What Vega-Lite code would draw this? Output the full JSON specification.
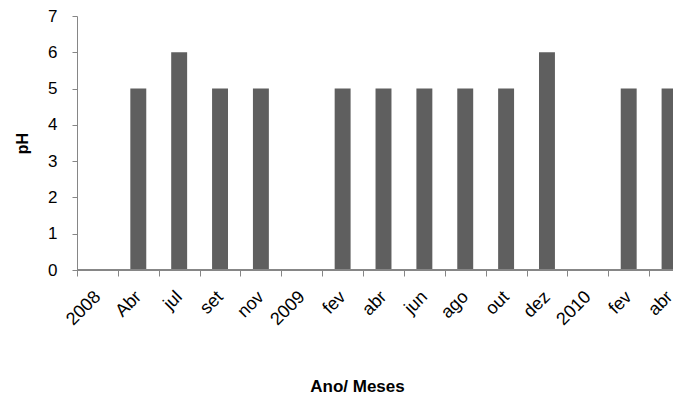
{
  "$schema": "https://vega.github.io/schema/vega-lite/v6.json",
  "width": 596,
  "height": 254,
  "autosize": {"type": "none"},
  "padding": {"left": 77, "top": 16, "right": 12, "bottom": 128},
  "background": "white",
  "config": {
    "view": {"stroke": null},
    "font": "Liberation Sans",
    "axis": {
      "labelColor": "#000000",
      "titleColor": "#000000",
      "domainColor": "#868686",
      "tickColor": "#868686",
      "grid": false
    }
  },
  "data": {
    "values": [
      {"periodo": "2008 Abr", "pH": 5},
      {"periodo": "2008 jul", "pH": 6},
      {"periodo": "2008 set", "pH": 5},
      {"periodo": "2008 nov", "pH": 5},
      {"periodo": "2009 fev", "pH": 5},
      {"periodo": "2009 abr", "pH": 5},
      {"periodo": "2009 jun", "pH": 5},
      {"periodo": "2009 ago", "pH": 5},
      {"periodo": "2009 out", "pH": 5},
      {"periodo": "2009 dez", "pH": 6},
      {"periodo": "2010 fev", "pH": 5},
      {"periodo": "2010 abr", "pH": 5}
    ]
  },
  "layer": [
    {
      "mark": {"type": "bar", "color": "#5f5f5f", "width": {"band": 0.39}, "clip": true},
      "encoding": {
        "x": {
          "field": "periodo",
          "type": "nominal",
          "sort": null,
          "scale": {
            "domain": ["2008", "2008 Abr", "2008 jul", "2008 set", "2008 nov", "2009", "2009 fev", "2009 abr", "2009 jun", "2009 ago", "2009 out", "2009 dez", "2010", "2010 fev", "2010 abr"],
            "range": [0, 613],
            "paddingInner": 0,
            "paddingOuter": 0
          },
          "axis": {
            "title": "Ano/ Meses",
            "titleFontSize": 17,
            "titleFontWeight": "bold",
            "titleX": 280,
            "titleY": 121,
            "titleAnchor": "middle",
            "titleBaseline": "alphabetic",
            "domain": false,
            "tickBand": "extent",
            "tickSize": 6,
            "labelAngle": -45,
            "labelAlign": "right",
            "labelBaseline": "middle",
            "labelFontSize": 18,
            "labelPadding": 18,
            "labelExpr": "!isString(datum.value) ? '' : (indexof(datum.value, ' ') > 0 ? substring(datum.value, indexof(datum.value, ' ') + 1) : datum.value)"
          }
        },
        "y": {
          "field": "pH",
          "type": "quantitative",
          "scale": {"domain": [0, 7], "nice": false},
          "axis": {
            "title": "pH",
            "titleFontSize": 16,
            "titleFontWeight": "bold",
            "titlePadding": 17,
            "values": [0, 1, 2, 3, 4, 5, 6, 7],
            "labelOverlap": false,
            "tickSize": 5,
            "labelFontSize": 17,
            "labelPadding": 15
          }
        }
      }
    },
    {
      "mark": {"type": "rule", "color": "#868686", "strokeWidth": 1},
      "encoding": {
        "y": {
          "datum": 0,
          "type": "quantitative",
          "axis": {
            "title": "pH",
            "titleFontSize": 16,
            "titleFontWeight": "bold",
            "titlePadding": 17,
            "values": [0, 1, 2, 3, 4, 5, 6, 7],
            "labelOverlap": false,
            "tickSize": 5,
            "labelFontSize": 17,
            "labelPadding": 15
          }
        }
      }
    }
  ]
}
